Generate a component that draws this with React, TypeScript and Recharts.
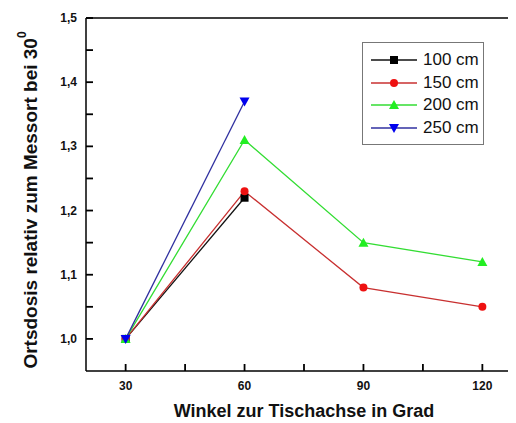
import React from "react";
import { LineChart, Line, XAxis, YAxis } from "recharts";

const angles = [30, 60, 90, 120];
const dose100 = [1.0, 1.22];
const dose150 = [1.0, 1.23, 1.08, 1.05];
const dose200 = [1.0, 1.31, 1.15, 1.12];
const dose250 = [1.0, 1.37];

const xTicks = [30, 45, 60, 75, 90, 105, 120];
const yTicks = [1.0, 1.05, 1.1, 1.15, 1.2, 1.25, 1.3, 1.35, 1.4, 1.45, 1.5];
const xDomain = [20, 130];
const yDomain = [0.95, 1.5];

const FONT = "'Liberation Sans', Arial, sans-serif";

type Shape = "square" | "circle" | "up" | "down";

const SERIES: { name: string; values: number[]; line: string; fill: string; shape: Shape }[] = [
  { name: "100 cm", values: dose100, line: "#111111", fill: "#000000", shape: "square" },
  { name: "150 cm", values: dose150, line: "#c83030", fill: "#ee1111", shape: "circle" },
  { name: "200 cm", values: dose200, line: "#33dd33", fill: "#22ee22", shape: "up" },
  { name: "250 cm", values: dose250, line: "#3030a0", fill: "#0000ee", shape: "down" },
];

function toData(values: number[]) {
  return values.map((v, i) => ({ angle: angles[i], value: v }));
}

function Marker({ cx, cy, shape, fill }: { cx: number; cy: number; shape: Shape; fill: string }) {
  const r = 4;
  if (shape === "square") return <rect x={cx - r} y={cy - r} width={2 * r} height={2 * r} fill={fill} />;
  if (shape === "circle") return <circle cx={cx} cy={cy} r={r} fill={fill} />;
  if (shape === "up")
    return <polygon points={`${cx},${cy - r - 1} ${cx - r - 1},${cy + r} ${cx + r + 1},${cy + r}`} fill={fill} />;
  return <polygon points={`${cx},${cy + r + 1} ${cx - r - 1},${cy - r} ${cx + r + 1},${cy - r}`} fill={fill} />;
}

const makeDot = (shape: Shape, fill: string) => (props: any) => {
  if (props.cx == null || props.cy == null) return <g key={props.key} />;
  return <Marker key={props.key} cx={props.cx} cy={props.cy} shape={shape} fill={fill} />;
};

const isMajorX = (v: number) => v % 30 === 0;
const isMajorY = (v: number) => Math.round(v * 100) % 10 === 0;
const fmtY = (v: number) => v.toFixed(1).replace(".", ",");

const BottomLabel = (props: any) => {
  const { x, y, payload } = props;
  if (!isMajorX(payload.value)) return <g />;
  return (
    <text x={x} y={y + 5} textAnchor="middle" fontFamily={FONT} fontWeight="bold" fontSize={12} fill="#111">
      {payload.value}
    </text>
  );
};

const LeftLabel = (props: any) => {
  const { x, y, payload } = props;
  if (!isMajorY(payload.value)) return <g />;
  return (
    <text x={x - 1} y={y + 4} textAnchor="end" fontFamily={FONT} fontWeight="bold" fontSize={12} fill="#111">
      {fmtY(payload.value)}
    </text>
  );
};

const NoLabel = () => <g />;

const YTitle = () => {
  const cx = 22;
  const cy = 192;
  return (
    <text
      x={cx}
      y={cy}
      transform={`rotate(-90 ${cx} ${cy})`}
      textAnchor="middle"
      dominantBaseline="central"
      fontFamily={FONT}
      fontWeight="bold"
      fontSize={19}
      fill="#111"
    >
      Ortsdosis relativ zum Messort bei 30
      <tspan dy={-8} fontSize={12}>0</tspan>
    </text>
  );
};

const XTitle = () => (
  <text x={296} y={409} textAnchor="middle" fontFamily={FONT} fontWeight="bold" fontSize={18} fill="#111">
    Winkel zur Tischachse in Grad
  </text>
);

const LegendBox = () => (
  <div
    style={{
      position: "absolute",
      left: 354,
      top: 34,
      border: "1px solid #777",
      width: 120,
      padding: "6px 0 5px 0",
      background: "#fff",
      fontFamily: FONT,
      fontSize: 17,
      color: "#111",
    }}
  >
    {SERIES.map((s) => (
      <div key={s.name} style={{ display: "flex", alignItems: "center", height: 22.5 }}>
        <svg width={52} height={14} style={{ marginLeft: 6 }}>
          <line x1={2} x2={48} y1={7} y2={7} stroke={s.line} strokeWidth={1.3} />
          <Marker cx={25} cy={7} shape={s.shape} fill={s.fill} />
        </svg>
        <span style={{ marginLeft: 2 }}>{s.name}</span>
      </div>
    ))}
  </div>
);

const axisLine = { stroke: "#000", strokeWidth: 1.5 };
const tickLine = { stroke: "#000", strokeWidth: 1.8 };

export default function App() {
  return (
    <div style={{ position: "relative", width: 508, height: 415, overflow: "hidden", background: "#fff" }}>
      <LineChart width={530} height={415} margin={{ top: 9, right: 15, bottom: 0, left: 0 }}>
        {/* negative tickSize turns the tick marks inward, as in the original plot */}
        <XAxis
          dataKey="angle"
          type="number"
          domain={xDomain}
          ticks={xTicks}
          interval={0}
          height={52}
          tickLine={tickLine}
          tickSize={-7}
          tickMargin={21}
          tick={<BottomLabel />}
          axisLine={axisLine}
          label={<XTitle />}
        />
        <XAxis
          xAxisId="top"
          orientation="top"
          type="number"
          domain={xDomain}
          ticks={xTicks}
          interval={0}
          height={1}
          tickLine={tickLine}
          tickSize={-7}
          tickMargin={0}
          tick={<NoLabel />}
          axisLine={axisLine}
        />
        <YAxis
          type="number"
          domain={yDomain}
          ticks={yTicks}
          interval={0}
          width={78}
          tickLine={tickLine}
          tickSize={-7}
          tickMargin={15}
          tick={<LeftLabel />}
          axisLine={axisLine}
          label={<YTitle />}
        />
        <YAxis
          yAxisId="right"
          orientation="right"
          type="number"
          domain={yDomain}
          ticks={yTicks}
          interval={0}
          width={1}
          tickLine={tickLine}
          tickSize={-7}
          tickMargin={0}
          tick={<NoLabel />}
          axisLine={axisLine}
        />
        {SERIES.map((s) => (
          <Line
            key={s.name}
            data={toData(s.values)}
            dataKey="value"
            name={s.name}
            stroke={s.line}
            strokeWidth={1.3}
            dot={makeDot(s.shape, s.fill)}
            activeDot={false}
            isAnimationActive={false}
          />
        ))}
      </LineChart>
      <LegendBox />
    </div>
  );
}
